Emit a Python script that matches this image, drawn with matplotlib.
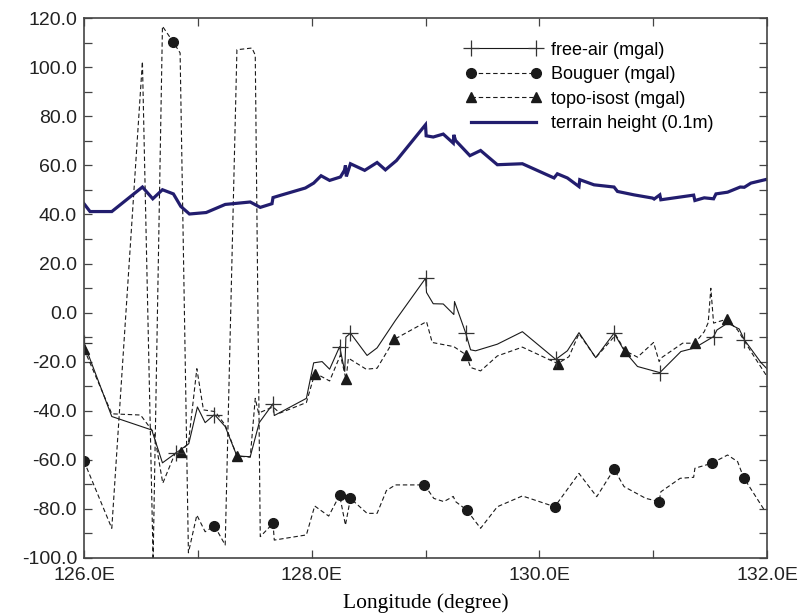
import matplotlib
matplotlib.use("Agg")
import matplotlib.pyplot as plt
from matplotlib.lines import Line2D
from matplotlib.ticker import MultipleLocator, FuncFormatter

plt.rcParams.update({
    "font.family": ["Liberation Sans", "DejaVu Sans"],
    "xtick.direction": "in",
    "ytick.direction": "in",
})

NAVY = "#221d6e"
INK = "#1a1a1a"
FRAME = "#444444"

# terrain height (0.1 m)
TH_LON = [126.00, 126.053, 126.244, 126.513, 126.604, 126.689, 126.785, 126.850,
          126.926, 127.073, 127.240, 127.460, 127.548, 127.651, 127.660, 127.724,
          127.944, 128.017, 128.082, 128.157, 128.252, 128.287, 128.296, 128.304,
          128.340, 128.465, 128.574, 128.647, 128.744, 128.999, 129.005, 129.067,
          129.155, 129.243, 129.248, 129.263, 129.389, 129.483, 129.630, 129.850,
          130.128, 130.157, 130.245, 130.347, 130.354, 130.479, 130.655, 130.685,
          130.831, 130.993, 131.007, 131.057, 131.066, 131.354, 131.365, 131.447,
          131.529, 131.550, 131.652, 131.763, 131.799, 131.857, 132.0]
TH_VAL = [44.4, 41.2, 41.2, 51.2, 46.4, 50.1, 48.4, 43.3, 40.2, 40.8, 44.1, 45.1,
          42.9, 44.4, 46.9, 47.8, 50.8, 52.8, 55.8, 53.9, 55.3, 58.0, 60.0, 55.5,
          60.7, 58.0, 61.2, 58.2, 62.0, 76.6, 72.1, 71.6, 72.8, 69.1, 72.5, 70.2,
          64.0, 66.1, 60.3, 60.7, 54.9, 56.6, 54.9, 51.4, 54.2, 52.1, 51.2, 49.4,
          48.0, 46.7, 46.3, 48.0, 46.0, 47.9, 45.7, 46.8, 46.4, 48.4, 49.1, 51.2,
          51.1, 52.8, 54.4]

# free-air anomaly (mgal)
FA_LON = [126.00, 126.244, 126.595, 126.689, 126.81, 126.92, 126.996, 127.064,
          127.146, 127.240, 127.343, 127.460, 127.539, 127.660, 127.671, 127.953,
          128.017, 128.091, 128.157, 128.245, 128.290, 128.300, 128.340, 128.486,
          128.574, 128.735, 129.000, 129.008, 129.067, 129.155, 129.248, 129.254,
          129.351, 129.395, 129.439, 129.630, 129.850, 130.143, 130.245, 130.347,
          130.494, 130.655, 130.749, 130.861, 131.057, 131.242, 131.359, 131.529,
          131.559, 131.652, 131.754, 131.799, 131.945, 132.0]
FA_VAL = [-12.5, -42.4, -47.9, -61.3, -57.2, -53.5, -38.5, -44.9, -41.6, -46.5,
          -58.5, -58.8, -44.9, -37.2, -42.0, -35.0, -20.5, -20.0, -23.1, -13.9,
          -24.0, -10.0, -8.4, -17.5, -14.4, -3.2, 14.0, 8.2, 3.6, 3.5, -0.8, 4.5,
          -8.2, -15.2, -15.6, -12.9, -7.8, -19.1, -15.6, -8.2, -18.4, -8.4, -15.9,
          -22.0, -24.5, -15.9, -14.5, -9.8, -7.1, -4.3, -6.7, -11.1, -20.4, -23.0]
FA_MARK = [0, 4, 8, 13, 19, 22, 26, 32, 37, 41, 44, 47, 51]

# Bouguer anomaly (mgal)
BG_LON = [126.00, 126.244, 126.513, 126.607, 126.689, 126.785, 126.844, 126.917,
          126.991, 127.064, 127.146, 127.240, 127.343, 127.475, 127.504, 127.548,
          127.660, 127.671, 127.953, 128.026, 128.149, 128.245, 128.296, 128.340,
          128.486, 128.574, 128.656, 128.735, 128.926, 128.990, 129.072, 129.160,
          129.243, 129.263, 129.360, 129.483, 129.630, 129.850, 130.134, 130.347,
          130.503, 130.655, 130.743, 130.934, 131.051, 131.066, 131.236, 131.354,
          131.365, 131.512, 131.652, 131.740, 131.793, 131.974]
BG_VAL = [-60.6, -88.0, 102.4, -101.0, 116.8, 110.2, 105.9, -98.0, -82.6, -89.4,
          -87.0, -94.8, 107.2, 107.9, 105.0, -91.4, -86.0, -92.8, -90.7, -78.9,
          -83.0, -74.5, -86.7, -75.8, -81.9, -81.9, -72.6, -70.3, -70.3, -70.3,
          -75.8, -77.1, -75.0, -77.1, -80.5, -88.0, -79.2, -74.8, -79.2, -65.6,
          -75.1, -63.9, -71.0, -75.8, -77.1, -73.1, -67.6, -67.2, -63.5, -61.5,
          -58.1, -60.8, -67.3, -80.5]
BG_MARK = [0, 5, 10, 16, 21, 23, 29, 34, 38, 41, 44, 49, 52]

# topo-isostatic anomaly (mgal)
TI_LON = [126.00, 126.244, 126.497, 126.616, 126.692, 126.800, 126.850, 126.917,
          126.991, 127.049, 127.152, 127.240, 127.343, 127.460, 127.504, 127.533,
          127.660, 127.720, 127.953, 128.026, 128.082, 128.157, 128.252, 128.301,
          128.322, 128.478, 128.574, 128.726, 129.008, 129.058, 129.248, 129.357,
          129.395, 129.483, 129.630, 129.850, 130.160, 130.259, 130.347, 130.494,
          130.670, 130.749, 130.861, 131.002, 131.051, 131.066, 131.257, 131.365,
          131.447, 131.482, 131.505, 131.529, 131.646, 131.740, 131.857, 131.989]
TI_VAL = [-14.8, -41.3, -41.8, -49.2, -69.6, -57.4, -56.8, -53.3, -22.9, -39.7,
          -40.4, -45.9, -58.5, -59.0, -35.0, -41.0, -38.5, -41.0, -36.7, -25.0,
          -26.0, -27.9, -17.3, -27.2, -18.6, -23.1, -22.7, -10.9, -3.7, -12.2,
          -13.9, -17.3, -22.4, -23.8, -17.7, -14.1, -20.8, -18.0, -8.6, -18.4,
          -9.1, -15.5, -18.2, -12.2, -20.0, -18.6, -12.5, -12.5, -7.8, -4.1, 9.9,
          -4.3, -2.7, -7.1, -15.9, -25.4]
TI_MARK = [0, 6, 12, 19, 23, 27, 31, 36, 41, 47, 52]

LABELS = ["free-air (mgal)", "Bouguer (mgal)", "topo-isost (mgal)",
          "terrain height (0.1m)"]

fig = plt.figure(figsize=(8, 6.16), dpi=100)
ax = fig.add_axes([0.105, 0.0946, 0.854, 0.8756])

DASH = (4, 2.5)
fa_style = dict(color=INK, lw=0.8, marker="+", ms=12, mew=0.9, mec="#333333")
bg_style = dict(color=INK, lw=0.8, dashes=DASH, marker="o", ms=7, mfc=INK, mec=INK)
ti_style = dict(color=INK, lw=0.8, dashes=DASH, marker="^", ms=7.5, mfc=INK, mec=INK)
th_style = dict(color=NAVY, lw=2.3)

ax.plot(BG_LON, BG_VAL, markevery=BG_MARK, **bg_style)
ax.plot(TI_LON, TI_VAL, markevery=TI_MARK, **ti_style)
ax.plot(FA_LON, FA_VAL, markevery=FA_MARK, **fa_style)
ax.plot(TH_LON, TH_VAL, solid_joinstyle="miter", **th_style)

ax.set_xlim(126, 132)
ax.set_ylim(-100, 120)
ax.xaxis.set_major_locator(MultipleLocator(2))
ax.xaxis.set_minor_locator(MultipleLocator(1))
ax.yaxis.set_major_locator(MultipleLocator(20))
ax.yaxis.set_minor_locator(MultipleLocator(10))
ax.xaxis.set_major_formatter(FuncFormatter(lambda v, p: f"{v:.1f}E"))
ax.yaxis.set_major_formatter(FuncFormatter(lambda v, p: f"{v:.1f}"))
ax.tick_params(which="both", top=True, right=True, length=6, width=0.9,
               color=FRAME, labelsize=14, labelcolor="#222222")
ax.tick_params(axis="y", pad=5)
ax.tick_params(axis="x", pad=7)
for s in ax.spines.values():
    s.set_color(FRAME)
    s.set_linewidth(1.2)

ax.set_xlabel("Longitude (degree)", family=["Liberation Serif", "DejaVu Serif"],
              fontsize=15.5, labelpad=6)

handles = [
    Line2D([], [], **fa_style),
    Line2D([], [], **bg_style),
    Line2D([], [], **ti_style),
    Line2D([], [], **th_style),
]
ax.legend(handles, LABELS, loc="upper left", bbox_to_anchor=(0.558, 0.957),
          frameon=False, fontsize=13, numpoints=2, handlelength=4.2,
          handletextpad=0.55, labelspacing=0.42, borderpad=0, borderaxespad=0)

plt.savefig("out.png", dpi=100)
